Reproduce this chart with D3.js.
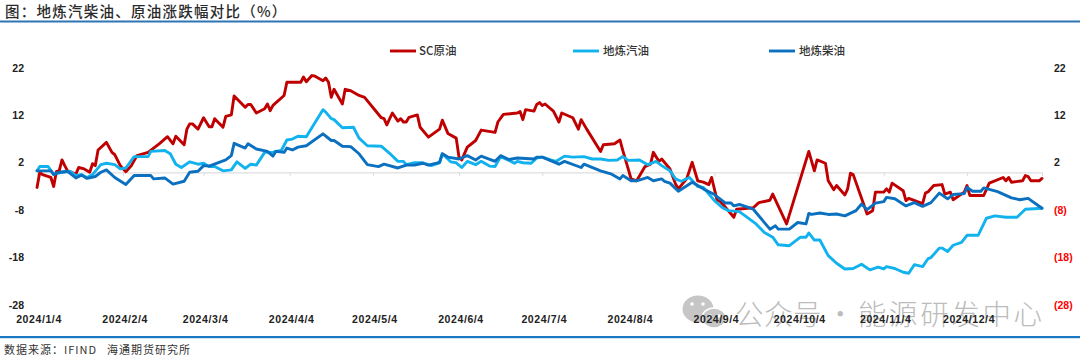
<!DOCTYPE html>
<html><head><meta charset="utf-8">
<script src="https://cdn.jsdelivr.net/npm/d3@7/dist/d3.min.js"></script>
<style>html,body{margin:0;padding:0;background:#fff;overflow:hidden}svg{display:block}text{font-family:"Noto Sans CJK SC","Liberation Sans",sans-serif}</style>
</head><body><svg id="c" width="1080" height="358"></svg>
<script>
const startDate = new Date(2024,0,4);
const titleText = "\u56FE\uFF1A地炼汽柴油、原油涨跌幅对比\uFF08%\uFF09";
const sourceText = "数据来源\uFF1AIFIND";
const sourceText2 = "海通期货研究所";
const watermarkParts = ["公众号","·","能源研发中心"];
const leftTicks = [22,12,2,-8,-18,-28];
const rightTicks = [22,12,2,-8,-18,-28];
const tickMonths = [[0,4],[1,4],[2,4],[3,4],[4,4],[5,4],[6,4],[7,4],[8,4],[9,4],[10,4],[11,4]];
const seriesNames = ["SC原油","地炼汽油","地炼柴油"];
const seriesColors = ["#C00000","#12B2EE","#0B70BF"];

const scDays = [0,1,2,5,6,7,8,9,10,11,14,15,17,19,20,21,22,25,27,28,30,32,34,36,40,44,47,49,50,53,54,55,56,58,60,62,63,64,67,68,70,71,75,76,77,79,82,83,84,85,89,90,95,96,97,99,100,103,104,105,106,107,110,111,113,116,118,124,125,126,128,130,131,132,133,134,137,138,141,145,146,148,151,152,153,155,158,160,165,166,168,173,174,175,176,179,180,181,182,183,186,188,189,193,195,196,198,203,204,208,210,211,214,216,219,221,222,224,225,228,230,231,234,236,238,240,242,243,245,246,248,251,252,258,260,264,265,270,278,280,281,284,285,287,288,291,292,293,294,299,301,302,305,306,307,308,312,313,314,319,320,321,323,326,327,329,330,334,335,336,341,343,348,349,350,351,355,356,357,358,361,362];
const scValues = [-3.3,-0.1,-0.6,-1.2,-3.1,0.1,0.2,2.5,1.3,0.2,-0.5,0.9,0.6,-0.1,1.7,1.3,4.6,6.2,4.1,3.6,1.3,0,1.3,3.4,4.1,5.9,7.4,5.9,7.5,5.7,9.0,10.1,10.1,9.0,11.4,9.5,9.5,11.2,9.4,11.7,12.0,16.0,13.6,14.2,14.2,12.4,13.3,14.3,12.9,14.0,16.1,18.9,18.9,20.0,19.0,20.3,20.2,19.2,19.8,18.9,15.7,17.4,14.3,17.4,17.1,16.1,15.7,11.4,11.2,9.9,12.4,10.7,11.2,10.5,10.5,11.5,12.0,9.4,7.3,9.0,10.9,8.1,7.1,3.1,2.5,5.2,6.6,8.8,8.3,10.5,12.1,12.4,12.7,11.0,13.1,12.8,14.2,14.6,14.0,14.3,12.8,10.5,12.4,11.4,9.0,11.0,9.0,4.3,5.7,5.9,6.7,4.5,-1.5,-1.9,1.1,1.6,4.1,2.2,2.7,0.6,-2.6,-3.6,-1.5,2.0,-1.9,-2.2,-2.7,-1.2,-6.1,-6.2,-7.5,-9.6,-7.9,-7.6,-6.5,-6.0,-4.7,-11.0,4.3,0.2,2.5,1.8,-1.9,-3.8,-2.9,-4.9,-3.6,-0.3,-0.6,-8.9,-8.2,-4.3,-4.3,-3.6,-4.3,-2.4,-4.0,-6.1,-5.6,-6.7,-4.5,-4.2,-2.9,-2.7,-4.7,-4.3,-5.9,-4.3,-2.9,-5.0,-5.0,-2.4,-1.2,-1.9,-1.2,-2.2,-1.9,-0.8,-1.0,-1.9,-1.9,-1.4];

const gasDays = [0,1,4,6,7,12,14,16,18,20,23,25,28,30,32,35,40,41,46,48,50,52,55,58,60,62,64,67,70,72,75,77,79,82,85,86,88,90,92,94,97,103,104,106,107,110,114,116,119,124,127,130,132,133,136,139,142,145,146,149,151,153,155,158,160,163,165,167,170,172,173,175,178,180,182,185,187,190,193,197,200,203,206,209,211,213,217,220,223,225,228,230,232,235,238,240,244,247,249,253,259,262,265,267,271,275,277,278,280,282,285,288,291,294,297,300,303,305,306,309,312,314,316,319,321,322,325,326,328,330,333,335,339,342,345,349,353,356,362];
const gasValues = [0.2,1.1,1.1,-0.5,-0.3,0.1,-0.8,-0.6,-1.2,-0.6,1.5,1.8,1.5,0.6,0.8,3.2,3.2,4.3,4.5,3.8,1.6,0.9,2.1,1.6,1.8,1.1,1.1,0.2,0.4,2.1,0.7,1.6,1.4,4.1,4.1,4.3,4.5,6.7,6.9,7.5,7.4,13.1,12.6,11.2,11.0,9.3,9.4,7.1,5.5,5.4,3.9,2.2,2.2,1.5,1.9,1.9,1.3,1.9,3.8,2.1,1.9,0.9,2.2,1.5,2.2,1.2,1.1,3.2,2.4,1.8,2.2,1.9,1.8,2.9,3.1,2.5,2.2,3.3,3.1,3.2,2.7,2.7,2.4,2.5,3.2,2.4,2.5,1.5,2.2,1.3,0.2,-1.5,-2.0,-1.2,-3.1,-3.3,-6.1,-7.6,-8.2,-8.4,-11.0,-12.8,-13.8,-15.4,-15.6,-13.8,-13.8,-12.9,-14.4,-14.4,-17.7,-19.3,-20.5,-20.4,-19.5,-20.7,-20.1,-20.5,-20.0,-20.4,-21.2,-21.4,-19.6,-20.0,-18.3,-18.1,-16.1,-16.1,-16.8,-15.5,-14.9,-13.4,-13.4,-9.8,-9.3,-9.6,-9.6,-7.9,-7.7];

const dieselDays = [0,5,6,8,11,14,16,18,21,23,25,28,32,35,41,42,46,49,53,55,58,60,62,68,70,71,75,76,79,83,85,86,89,90,92,94,97,103,106,107,110,113,116,119,123,125,130,133,136,139,141,145,146,148,152,155,158,160,165,167,170,173,179,180,182,188,190,196,197,203,207,210,211,214,216,220,222,225,226,228,231,236,240,244,246,248,250,251,253,258,264,266,267,271,274,277,278,279,282,285,288,291,295,297,299,302,305,306,309,313,316,319,322,325,328,330,334,335,337,340,341,346,351,354,357,362];
const dieselValues = [0.2,0.2,-0.6,-0.1,0.1,-1.3,-0.7,-1.4,-1.0,-0.1,0.4,-1.2,-2.7,-0.8,-0.8,-1.5,-1.3,-2.6,-2.0,-0.1,0.1,1.3,1.2,2.5,3.4,6.0,5.0,5.9,4.8,4.3,3.3,4.3,4.1,5.0,4.6,5.2,5.5,8.0,6.6,6.6,5.4,5.3,3.8,1.5,1.1,1.6,0.8,1.4,1.4,1.8,1.4,2.0,3.8,3.1,2.7,3.4,2.5,3.3,2.2,3.4,2.6,2.9,2.7,3.1,3.1,1.6,2.2,0.9,1.6,0.2,-0.5,-1.5,-0.8,-1.9,-1.9,-1.2,-1.9,-1.5,-2.0,-2.4,-4.1,-2.2,-3.6,-4.8,-5.7,-6.6,-6.6,-7.2,-6.9,-7.9,-12.1,-11.4,-12.1,-12.1,-10.7,-11.0,-8.8,-9.0,-8.7,-9.0,-8.9,-9.3,-8.2,-6.8,-8.0,-6.6,-6.3,-5.4,-5.7,-7.2,-6.5,-7.3,-6.5,-4.5,-5.7,-4.8,-4.6,-3.3,-4.1,-4.1,-3.4,-4.2,-5.5,-5.9,-5.6,-7.7];

const svg = d3.select("#c");
const dateOf = d => d3.timeDay.offset(startDate, d);
const x = d3.scaleTime().domain([startDate, dateOf(362)]).range([37,1042]);
const y = d3.scaleLinear().domain([22,-28]).range([67.5,304.5]);
const zeroY = y(0)+0.5;

// rules
svg.append("rect").attr("x",0).attr("y",20.5).attr("width",1080).attr("height",2).attr("fill","#2F75B5");
svg.append("rect").attr("x",0).attr("y",336).attr("width",1080).attr("height",2.2).attr("fill","#1A77C2");

// title and source
svg.append("text").attr("x",5).attr("y",17).attr("font-size",14.5).attr("font-weight",500).attr("letter-spacing",1.25).attr("fill","#2a2a2a").text(titleText);
svg.append("text").attr("x",4).attr("y",354).attr("font-size",11).attr("letter-spacing",1).attr("fill","#333").text(sourceText);
svg.append("text").attr("x",107).attr("y",354).attr("font-size",11).attr("letter-spacing",1).attr("fill","#333").text(sourceText2);

// watermark
const wm = svg.append("g");
wm.append("ellipse").attr("cx",698).attr("cy",309).attr("rx",15.5).attr("ry",13.5).attr("fill","#c6c6c6");
wm.append("ellipse").attr("cx",714).attr("cy",318).attr("rx",12).attr("ry",10).attr("fill","#c6c6c6").attr("stroke","#fff").attr("stroke-width",1.5);
[[692,304],[703,304],[710,316],[719,316]].forEach(p=>wm.append("circle").attr("cx",p[0]).attr("cy",p[1]).attr("r",1.8).attr("fill","#fff"));
const wmX = [735,826,858], wmSpacing = [0.5,0,2.6];
wm.selectAll("text").data(watermarkParts).join("text")
  .attr("x",(d,i)=>wmX[i]).attr("y",325).attr("font-size",28.5).attr("font-weight",300)
  .attr("letter-spacing",(d,i)=>wmSpacing[i]).attr("fill","#bcbcbc").text(d=>d);

// zero axis
const xAxis = d3.axisBottom(x).tickValues(tickMonths.map(m=>new Date(2024,m[0],m[1]))).tickSize(4).tickFormat("");
const gx = svg.append("g").attr("transform",`translate(0,${zeroY})`).call(xAxis);
gx.select(".domain").attr("stroke","#dedede").attr("stroke-width",1.2);
gx.selectAll(".tick line").attr("stroke","#dedede").attr("stroke-width",1);

// tick labels, x
svg.append("g").selectAll("text").data(tickMonths).join("text")
  .attr("x",m=>x(new Date(2024,m[0],m[1]))+2).attr("y",323)
  .attr("text-anchor","middle").attr("font-size",10.5).attr("font-weight",700)
  .attr("letter-spacing",0.6).attr("fill","#222")
  .style("font-family",'"Liberation Sans",sans-serif')
  .text(m=>`2024/${m[0]+1}/${m[1]}`);

// left axis labels
svg.append("g").selectAll("text").data(leftTicks).join("text")
  .attr("x",24).attr("y",v=>y(v)+4).attr("text-anchor","end")
  .attr("font-size",10.5).attr("font-weight",700).attr("fill","#222")
  .style("font-family",'"Liberation Sans",sans-serif').text(v=>v);

// right axis labels
svg.append("g").selectAll("text").data(rightTicks).join("text")
  .attr("x",1054).attr("y",v=>y(v)+4).attr("text-anchor","start")
  .attr("font-size",10.5).attr("font-weight",700)
  .attr("fill",v=>v<0?"#FF0000":"#222")
  .style("font-family",'"Liberation Sans",sans-serif')
  .text(v=>v<0?`(${-v})`:v);

// lines
const line = d3.line().x(d=>x(dateOf(d[0]))).y(d=>y(d[1])).curve(d3.curveLinear);
const series = [[scDays,scValues],[gasDays,gasValues],[dieselDays,dieselValues]];
svg.append("g").selectAll("path").data(series).join("path")
  .attr("d",s=>line(d3.zip(s[0],s[1])))
  .attr("fill","none").attr("stroke",(s,i)=>seriesColors[i])
  .attr("stroke-width",2.9).attr("stroke-linejoin","round").attr("stroke-linecap","round");

// legend
const legendX = [390,573,769];
const lg = svg.append("g").selectAll("g").data(seriesNames).join("g")
  .attr("transform",(d,i)=>`translate(${legendX[i]},51)`);
lg.append("line").attr("x1",0).attr("x2",26).attr("stroke",(d,i)=>seriesColors[i]).attr("stroke-width",2.9);
lg.append("text").attr("x",(d,i)=>i==0?29:30).attr("y",4).attr("font-size",11.5).attr("font-weight",500).attr("fill","#333").text(d=>d);
</script></body></html>
